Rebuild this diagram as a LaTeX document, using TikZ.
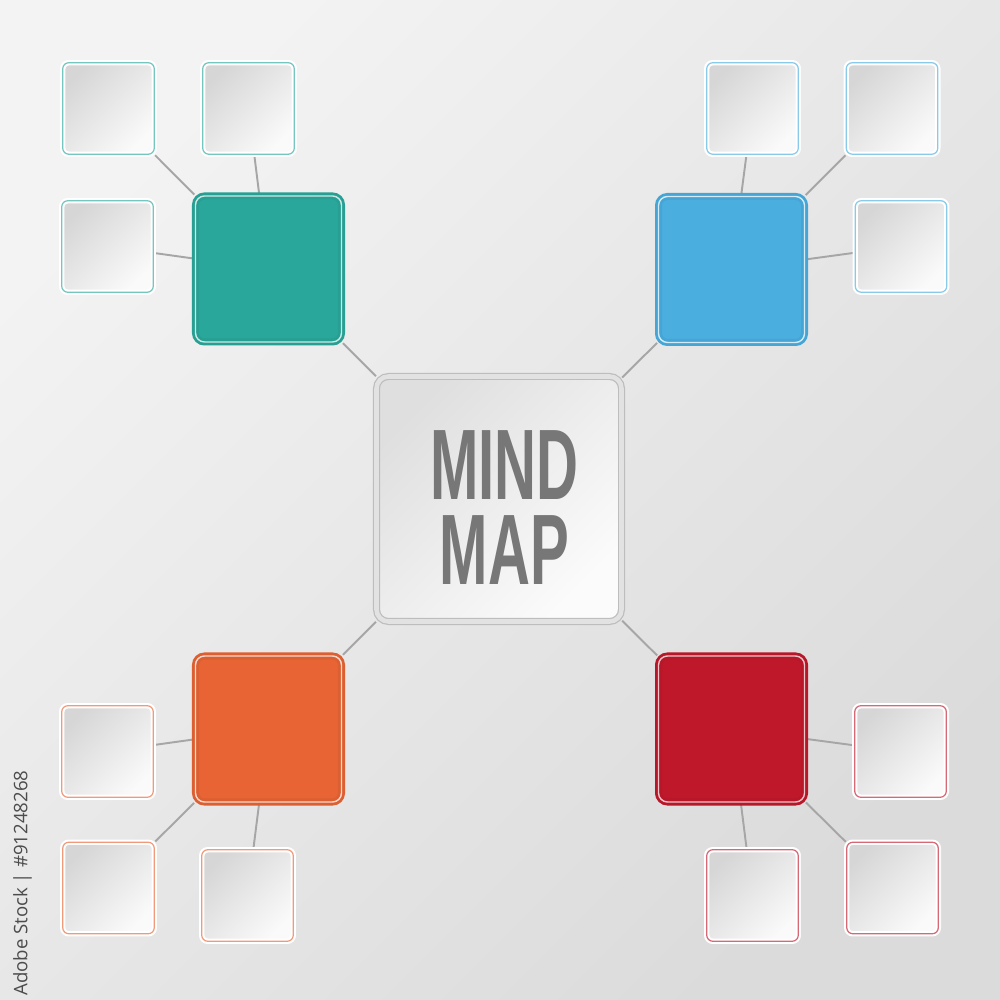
\documentclass[tikz,border=0pt]{standalone}
\usepackage{fontspec}
\setmainfont{Liberation Sans}
\newfontfamily\stockfont{Open Sans}
\usepackage{tikz}
\usetikzlibrary{backgrounds}
\usetikzlibrary{shadows}

\definecolor{bgin}{HTML}{F3F3F3}
\definecolor{bgout}{HTML}{DBDBDB}
\definecolor{linkgray}{HTML}{A6A6A6}
\definecolor{hubrim}{HTML}{BDBDBD}
\definecolor{hubband}{HTML}{E2E2E2}
\definecolor{titlegray}{HTML}{777777}
\definecolor{mmteal}{HTML}{2AA79B}
\definecolor{mmblue}{HTML}{4AAEDF}
\definecolor{mmorange}{HTML}{E86434}
\definecolor{mmred}{HTML}{C0182B}

\tikzset{
    boxnode/.style = {rectangle, align=center, inner sep=0pt},
    hub_node/.style = {boxnode, minimum size=2.45cm, rounded corners=0.12cm, draw=hubrim, line width=0.35pt, double=hubband, double distance=1.3pt, top color=gray!25, bottom color=white!97!gray, shading angle=45, drop shadow={opacity=0.2, shadow xshift=0.4pt, shadow yshift=-0.6pt}},
    branch_node/.style = {boxnode, minimum size=1.46cm, rounded corners=0.09cm, fill=#1, draw=#1!95!black, line width=0.8pt, double=white!75!#1, double distance=0.4pt, drop shadow={opacity=0.3, shadow xshift=0.5pt, shadow yshift=-0.6pt}},
    leaf_node/.style = {boxnode, minimum size=0.915cm, rounded corners=0.06cm, draw=white, line width=0.6pt, double=#1!65, double distance=0.35pt, top color=gray!32, bottom color=white!96!gray, shading angle=45, drop shadow={opacity=0.2, shadow xshift=0.3pt, shadow yshift=-0.5pt}},
    link/.style = {draw=linkgray, line width=0.55pt},
    title_text/.style = {anchor=base, inner sep=0pt, text=titlegray, font=\bfseries\fontsize{28.5}{24.2}\selectfont, xscale=0.58},
    stock_text/.style = {inner sep=0pt, text=black!70, font=\stockfont\fontsize{5.3}{6}\selectfont}
}

\begin{document}
\begin{tikzpicture}
    \useasboundingbox (0,0) rectangle (10,10);

    % centre
    \node [hub_node] (hub) at (4.99,5.01) {};
    \node [title_text] (title_mind) at (5.045,5.00) {MIND};
    \node [title_text] (title_map) at (5.045,4.15) {MAP};

    % four branches
    \node [branch_node=mmteal] (teal) at (2.685,7.31) {};
    \node [branch_node=mmblue] (blue) at (7.315,7.305) {};
    \node [branch_node=mmorange] (orange) at (2.685,2.71) {};
    \node [branch_node=mmred] (red) at (7.315,2.71) {};

    % leaves
    \node [leaf_node=mmteal] (teal_tl) at (1.085,8.915) {};
    \node [leaf_node=mmteal] (teal_t) at (2.485,8.915) {};
    \node [leaf_node=mmteal] (teal_l) at (1.075,7.535) {};

    \node [leaf_node=mmblue] (blue_t) at (7.525,8.915) {};
    \node [leaf_node=mmblue] (blue_tr) at (8.92,8.915) {};
    \node [leaf_node=mmblue] (blue_r) at (9.01,7.535) {};

    \node [leaf_node=mmorange] (orange_l) at (1.075,2.485) {};
    \node [leaf_node=mmorange] (orange_bl) at (1.085,1.12) {};
    \node [leaf_node=mmorange] (orange_b) at (2.475,1.045) {};

    \node [leaf_node=mmred] (red_r) at (9.005,2.485) {};
    \node [leaf_node=mmred] (red_br) at (8.925,1.12) {};
    \node [leaf_node=mmred] (red_b) at (7.525,1.045) {};

    \node [stock_text, rotate=90, anchor=east] (stockid) at (0.225,2.30) {Adobe Stock | \#91248268};

    \begin{scope}[on background layer]
        \shade [top color=bgin, bottom color=bgout, shading angle=45] (0,0) rectangle (10,10);
        \foreach \b in {teal,blue,orange,red}
            \draw [link] (hub) -- (\b);
        \foreach \l in {teal_tl,teal_t,teal_l}
            \draw [link] (teal) -- (\l);
        \foreach \l in {blue_t,blue_tr,blue_r}
            \draw [link] (blue) -- (\l);
        \foreach \l in {orange_l,orange_bl,orange_b}
            \draw [link] (orange) -- (\l);
        \foreach \l in {red_r,red_br,red_b}
            \draw [link] (red) -- (\l);
    \end{scope}
\end{tikzpicture}
\end{document}
